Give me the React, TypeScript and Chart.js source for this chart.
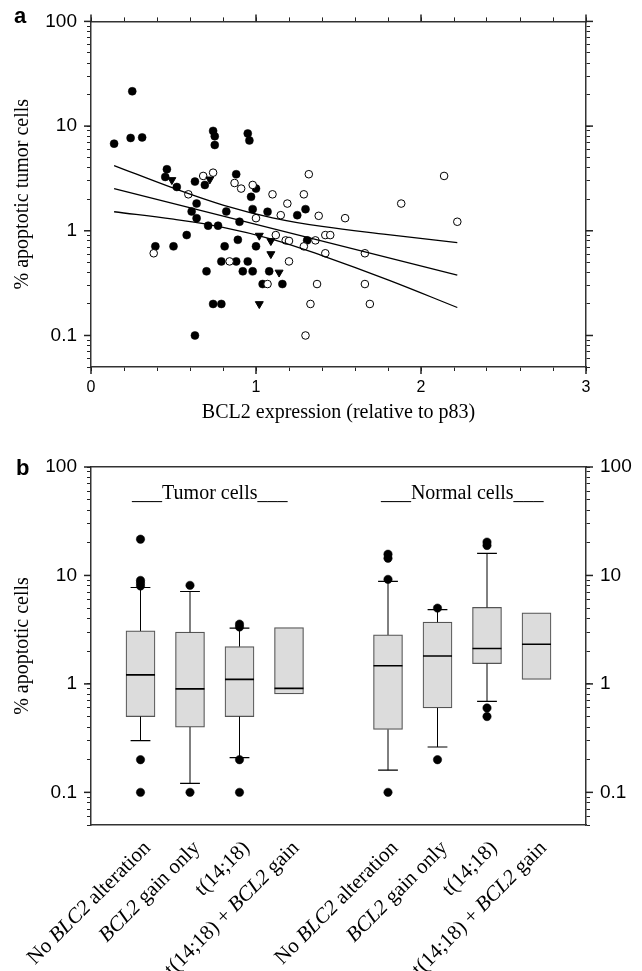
import { useEffect, useRef } from 'react';
import { Chart, registerables } from 'chart.js';

Chart.register(...registerables);

const SANS = "'Liberation Sans', Arial, sans-serif";
const SERIF = "'Liberation Serif', 'Times New Roman', serif";

// ---------------- Panel a data ----------------
const filledX = [0.14, 0.24, 0.31, 0.25, 0.74, 0.75, 0.75, 0.95, 0.96, 0.46, 0.45, 0.52, 0.63, 0.69, 0.88, 1.0, 0.97, 0.64, 0.61, 0.64, 0.82, 0.98, 1.07, 0.9, 0.71, 0.77, 0.58, 0.39, 0.5, 0.81, 0.89, 1.0, 0.79, 0.88, 0.95, 0.7, 0.92, 0.98, 1.08, 0.74, 0.79, 0.63, 1.25, 1.3, 1.31, 1.04, 1.16];
const filledY = [6.8, 7.7, 7.8, 21.5, 9.0, 8.0, 6.6, 8.5, 7.3, 3.87, 3.27, 2.62, 2.95, 2.74, 3.47, 2.53, 2.11, 1.82, 1.53, 1.32, 1.53, 1.61, 1.52, 1.22, 1.12, 1.12, 0.91, 0.71, 0.71, 0.71, 0.82, 0.71, 0.51, 0.51, 0.51, 0.41, 0.41, 0.41, 0.41, 0.2, 0.2, 0.1, 1.41, 1.61, 0.81, 0.31, 0.31];
const openX = [0.38, 0.59, 0.68, 0.74, 0.87, 0.91, 0.98, 1.0, 0.84, 1.07, 1.1, 1.15, 1.19, 1.12, 1.18, 1.2, 1.2, 1.29, 1.32, 1.38, 1.29, 1.36, 1.42, 1.42, 1.45, 1.37, 1.33, 1.3, 1.54, 1.88, 2.14, 2.22, 1.66, 1.66, 1.69];
const openY = [0.61, 2.23, 3.34, 3.59, 2.86, 2.53, 2.74, 1.32, 0.51, 0.31, 2.23, 1.41, 1.82, 0.91, 0.81, 0.8, 0.51, 2.23, 3.47, 1.39, 0.71, 0.81, 0.61, 0.91, 0.91, 0.31, 0.2, 0.1, 1.32, 1.82, 3.34, 1.22, 0.61, 0.31, 0.2];
const triX = [0.49, 0.72, 1.02, 1.09, 1.09, 1.14, 1.02];
const triY = [3.06, 3.1, 0.9, 0.8, 0.6, 0.4, 0.2];

const fitX = [0.14, 2.22];
const fitY = [2.53, 0.378];
const bandX = [0.14, 0.5, 0.8, 1.1, 1.4, 1.8, 2.22];
const bandUpper = [4.2, 2.55, 1.76, 1.33, 1.1, 0.92, 0.77];
const bandLower = [1.52, 1.29, 1.08, 0.83, 0.58, 0.34, 0.185];

const xTickLabelsA = ['0', '1', '2', '3'];
const yTickLabels = ['0.1', '1', '10', '100'];

// ---------------- Panel b data ----------------
const groupHeaders = ['___Tumor cells___', '___Normal cells___'];
const groupHeaderX = [2.4, 7.5];
const boxLabels = [
  'No *BLC2* alteration', '*BCL2* gain only', 't(14;18)', 't(14;18) + *BCL2* gain',
  'No *BLC2* alteration', '*BCL2* gain only', 't(14;18)', 't(14;18) + *BCL2* gain',
];
const boxSlot = [1, 2, 3, 4, 6, 7, 8, 9];
const boxQ1 = [0.5, 0.4, 0.5, 0.81, 0.38, 0.6, 1.54, 1.1];
const boxMedian = [1.21, 0.9, 1.1, 0.91, 1.47, 1.81, 2.12, 2.32];
const boxQ3 = [3.08, 3.0, 2.21, 3.31, 2.83, 3.71, 5.07, 4.52];
const whiskerLow: (number | null)[] = [0.3, 0.121, 0.209, null, 0.16, 0.262, 0.69, null];
const whiskerHigh: (number | null)[] = [7.74, 7.11, 3.27, null, 8.8, 4.85, 16.0, null];
const outliers = [
  [21.6, 9.0, 8.5, 8.0, 0.2, 0.1],
  [8.1, 0.1],
  [3.56, 3.35, 0.2, 0.1],
  [],
  [15.7, 14.4, 9.2, 0.1],
  [5.0, 0.2],
  [20.3, 18.9, 0.6, 0.5],
  [],
];

const CAP_HALF = 0.2;
const BOX_HALF = 0.293;

// ---------------- helpers ----------------
function logTickValues(min: number, max: number) {
  const vals: number[] = [];
  for (let e = -2; e <= 2; e++) {
    for (let m = 1; m <= 9; m++) {
      const v = Number((m * Math.pow(10, e)).toPrecision(6));
      if (v >= min - 1e-9 && v <= max + 1e-9) vals.push(v);
    }
  }
  return vals;
}
const isPow10 = (v: number) => Math.abs(Math.log10(v) - Math.round(Math.log10(v))) < 1e-6;
const isInt = (v: number) => Math.abs(v - Math.round(v)) < 1e-6;
const yLabel = (v: number) => yTickLabels.find((t) => Math.abs(Number(t) - v) < 1e-9) ?? '';

function logAxis(position: 'left' | 'right', showLabels: boolean, width: number, title?: string) {
  const min = 0.05;
  const max = 100;
  return {
    type: 'logarithmic',
    position,
    min,
    max,
    afterBuildTicks: (s: any) => {
      s.ticks = logTickValues(min, max).map((v) => ({ value: v, major: isPow10(v) }));
    },
    ticks: {
      display: showLabels,
      autoSkip: false,
      padding: 10,
      color: '#000',
      font: { family: SANS, size: 19 },
      callback: (v: any) => yLabel(Number(v)),
    },
    grid: {
      drawOnChartArea: false,
      drawTicks: true,
      tickLength: 4,
      tickColor: '#222',
      tickWidth: 1,
    },
    border: { display: true, color: '#333', width: 1.5 },
    title: title
      ? { display: true, text: title, color: '#000', font: { family: SERIF, size: 20 }, padding: { top: 11, bottom: 0 } }
      : { display: false },
    afterFit: (s: any) => {
      s.width = width;
    },
  };
}

// longer marks for the major ticks (powers of ten / integers)
const majorTicks = {
  id: 'majorTicks',
  afterDraw(chart: any) {
    const ctx = chart.ctx;
    const L = 7;
    ctx.save();
    ctx.strokeStyle = '#222';
    ctx.lineWidth = 1.5;
    Object.values(chart.scales).forEach((s: any) => {
      if (!s.options.grid.drawTicks || !s.ticks || !s.ticks.length) return;
      s.ticks.forEach((t: any) => {
        const major = s.type === 'logarithmic' ? isPow10(t.value) : isInt(t.value);
        if (!major) return;
        const p = s.getPixelForValue(t.value);
        ctx.beginPath();
        if (s.position === 'left') { ctx.moveTo(s.right, p); ctx.lineTo(s.right - L, p); }
        else if (s.position === 'right') { ctx.moveTo(s.left, p); ctx.lineTo(s.left + L, p); }
        else if (s.position === 'top') { ctx.moveTo(p, s.bottom); ctx.lineTo(p, s.bottom - L); }
        else { ctx.moveTo(p, s.top); ctx.lineTo(p, s.top + L); }
        ctx.stroke();
      });
    });
    ctx.restore();
  },
};

function drawRotatedLabel(ctx: CanvasRenderingContext2D, text: string, ax: number, ay: number) {
  const segs = text
    .split('*')
    .map((t, i) => ({ t, italic: i % 2 === 1 }))
    .filter((s) => s.t.length > 0);
  const font = (it: boolean) => `${it ? 'italic ' : ''}21px ${SERIF}`;
  ctx.save();
  ctx.translate(ax, ay);
  ctx.rotate(-Math.PI / 4);
  ctx.textBaseline = 'middle';
  ctx.textAlign = 'left';
  ctx.fillStyle = '#000';
  let total = 0;
  for (const s of segs) {
    ctx.font = font(s.italic);
    total += ctx.measureText(s.t).width;
  }
  let x = -total;
  for (const s of segs) {
    ctx.font = font(s.italic);
    ctx.fillText(s.t, x, 0);
    x += ctx.measureText(s.t).width;
  }
  ctx.restore();
}

const panelLetter = (text: string, x: number, y: number) => ({
  id: 'panelLetter',
  afterDraw(chart: any) {
    const ctx = chart.ctx;
    ctx.save();
    ctx.font = `bold 22px ${SANS}`;
    ctx.fillStyle = '#000';
    ctx.textAlign = 'left';
    ctx.textBaseline = 'alphabetic';
    ctx.fillText(text, x, y);
    ctx.restore();
  },
});

const boxDecor = {
  id: 'boxDecor',
  afterDraw(chart: any) {
    const ctx = chart.ctx;
    const xs = chart.scales.x;
    const area = chart.chartArea;
    ctx.save();
    ctx.font = `20px ${SERIF}`;
    ctx.fillStyle = '#000';
    ctx.textAlign = 'center';
    ctx.textBaseline = 'alphabetic';
    groupHeaders.forEach((h, i) => {
      ctx.fillText(h, xs.getPixelForValue(groupHeaderX[i]), area.top + 32);
    });
    ctx.restore();
    boxLabels.forEach((lab, i) => {
      const cx = xs.getPixelForValue(boxSlot[i]);
      drawRotatedLabel(ctx, lab, cx + 7, area.bottom + 20);
    });
  },
};

function pts(xs: number[], ys: number[]) {
  return xs.map((x, i) => ({ x, y: ys[i] }));
}

export default function App() {
  const refA = useRef<HTMLCanvasElement | null>(null);
  const refB = useRef<HTMLCanvasElement | null>(null);

  useEffect(() => {
    if (!refA.current || !refB.current) return;

    // ---------- Panel a ----------
    const xMinorA: number[] = [];
    for (let i = 0; i <= 15; i++) xMinorA.push(Math.round(i * 2) / 10);
    const xLabelA = (v: number) => xTickLabelsA.find((t) => Math.abs(Number(t) - v) < 1e-6) ?? '';

    const lineStyle = { type: 'line', borderColor: '#000', borderWidth: 1.3, pointRadius: 0, fill: false, xAxisID: 'x', yAxisID: 'y' };

    const chartA = new Chart(refA.current, {
      type: 'scatter',
      data: {
        datasets: [
          { ...lineStyle, data: pts(fitX, fitY), tension: 0, order: 0 },
          { ...lineStyle, data: pts(bandX, bandUpper), tension: 0.4, order: 0 },
          { ...lineStyle, data: pts(bandX, bandLower), tension: 0.4, order: 0 },
          {
            type: 'scatter', data: pts(triX, triY), pointStyle: 'triangle', rotation: 180, pointRadius: 4.6,
            backgroundColor: '#000', borderColor: '#000', borderWidth: 1, order: 1, xAxisID: 'x', yAxisID: 'y',
          },
          {
            type: 'scatter', data: pts(openX, openY), pointStyle: 'circle', pointRadius: 3.8,
            backgroundColor: '#fff', borderColor: '#000', borderWidth: 1, order: 2, xAxisID: 'x', yAxisID: 'y',
          },
          {
            type: 'scatter', data: pts(filledX, filledY), pointStyle: 'circle', pointRadius: 4,
            backgroundColor: '#000', borderColor: '#000', borderWidth: 0.5, order: 3, xAxisID: 'x', yAxisID: 'y',
          },
        ] as any,
      },
      options: {
        responsive: false,
        maintainAspectRatio: false,
        devicePixelRatio: 1,
        animation: false,
        events: [],
        layout: { padding: { left: 0, right: 0, top: 0, bottom: 11 }, autoPadding: false },
        plugins: { legend: { display: false }, tooltip: { enabled: false } },
        scales: {
          x: {
            type: 'linear', position: 'bottom', min: 0, max: 3,
            afterBuildTicks: (s: any) => { s.ticks = xMinorA.map((v) => ({ value: v })); },
            ticks: {
              autoSkip: false, maxRotation: 0, padding: 7, color: '#000',
              font: { family: SANS, size: 16 },
              callback: (v: any) => xLabelA(Number(v)),
            },
            grid: { drawOnChartArea: false, tickLength: 4, tickColor: '#222', tickWidth: 1 },
            border: { display: true, color: '#333', width: 1.5 },
            title: {
              display: true, text: 'BCL2 expression (relative to p83)', color: '#000',
              font: { family: SERIF, size: 20 }, padding: { top: 0, bottom: 4 },
            },
            afterFit: (s: any) => { s.height = 62; },
          },
          x2: {
            type: 'linear', position: 'top', min: 0, max: 3,
            afterBuildTicks: (s: any) => { s.ticks = xMinorA.map((v) => ({ value: v })); },
            ticks: { display: false, autoSkip: false },
            grid: { drawOnChartArea: false, tickLength: 4, tickColor: '#222', tickWidth: 1 },
            border: { display: true, color: '#333', width: 1.5 },
            afterFit: (s: any) => { s.height = 20; },
          },
          y: logAxis('left', true, 91, '% apoptotic tumor cells'),
          y2: logAxis('right', false, 56),
        } as any,
      },
      plugins: [majorTicks, panelLetter('a', 14, 23)],
    } as any);

    // ---------- Panel b ----------
    const whiskerPts: any[] = [];
    const capPts: any[] = [];
    const medianPts: any[] = [];
    const outlierPts: any[] = [];
    boxSlot.forEach((s, i) => {
      const lo = whiskerLow[i];
      const hi = whiskerHigh[i];
      if (lo != null && hi != null) {
        whiskerPts.push({ x: s, y: lo }, { x: s, y: boxQ1[i] }, { x: s, y: null });
        whiskerPts.push({ x: s, y: boxQ3[i] }, { x: s, y: hi }, { x: s, y: null });
        capPts.push({ x: s - CAP_HALF, y: lo }, { x: s + CAP_HALF, y: lo }, { x: s, y: null });
        capPts.push({ x: s - CAP_HALF, y: hi }, { x: s + CAP_HALF, y: hi }, { x: s, y: null });
      }
      medianPts.push({ x: s - BOX_HALF, y: boxMedian[i] }, { x: s + BOX_HALF, y: boxMedian[i] }, { x: s, y: null });
      outliers[i].forEach((v) => outlierPts.push({ x: s, y: v }));
    });

    const segStyle = { type: 'line', pointRadius: 0, fill: false, spanGaps: false, tension: 0, xAxisID: 'x', yAxisID: 'y' };

    const chartB = new Chart(refB.current, {
      type: 'scatter',
      data: {
        datasets: [
          {
            type: 'scatter', data: outlierPts, pointStyle: 'circle', pointRadius: 4.2,
            backgroundColor: '#000', borderColor: '#000', borderWidth: 0.5, order: 0, xAxisID: 'x', yAxisID: 'y',
          },
          { ...segStyle, data: medianPts, borderColor: '#000', borderWidth: 1.6, order: 1 },
          { ...segStyle, data: capPts, borderColor: '#000', borderWidth: 1.2, order: 2 },
          { ...segStyle, data: whiskerPts, borderColor: '#000', borderWidth: 1, order: 3 },
          {
            type: 'bar',
            data: boxSlot.map((s, i) => ({ x: s, y: [boxQ1[i], boxQ3[i]] })),
            barThickness: 29,
            backgroundColor: '#dcdcdc',
            borderColor: '#555',
            borderWidth: 1.2,
            borderSkipped: false,
            grouped: false,
            order: 4,
            xAxisID: 'x',
            yAxisID: 'y',
          },
        ] as any,
      },
      options: {
        responsive: false,
        maintainAspectRatio: false,
        devicePixelRatio: 1,
        animation: false,
        events: [],
        layout: { padding: { left: 0, right: 0, top: 0, bottom: 0 }, autoPadding: false },
        plugins: { legend: { display: false }, tooltip: { enabled: false } },
        scales: {
          x: {
            type: 'linear', position: 'bottom', min: 0, max: 10, offset: false,
            ticks: { display: false },
            grid: { drawOnChartArea: false, drawTicks: false },
            border: { display: true, color: '#333', width: 1.5 },
            afterFit: (s: any) => { s.height = 146; },
          },
          x2: {
            type: 'linear', position: 'top', min: 0, max: 10,
            ticks: { display: false },
            grid: { drawOnChartArea: false, drawTicks: false },
            border: { display: true, color: '#333', width: 1.5 },
            afterFit: (s: any) => { s.height = 27; },
          },
          y: logAxis('left', true, 91, '% apoptotic cells'),
          y2: logAxis('right', true, 56),
        } as any,
      },
      plugins: [majorTicks, panelLetter('b', 16, 35), boxDecor],
    } as any);

    return () => {
      chartA.destroy();
      chartB.destroy();
    };
  }, []);

  return (
    <div style={{ position: 'absolute', left: 0, top: 0, width: 642, height: 971, background: '#fff' }}>
      <canvas
        ref={refA}
        width={642}
        height={440}
        style={{ position: 'absolute', left: 0, top: 0, width: 642, height: 440 }}
      />
      <canvas
        ref={refB}
        width={642}
        height={531}
        style={{ position: 'absolute', left: 0, top: 440, width: 642, height: 531 }}
      />
    </div>
  );
}
